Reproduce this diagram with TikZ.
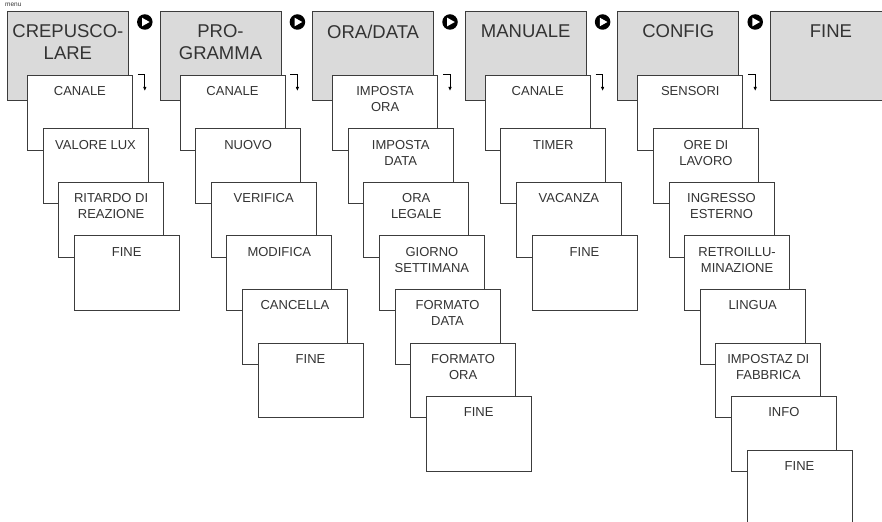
\documentclass[tikz,border=0pt]{standalone}
\usepackage{fontspec}
\setmainfont{Liberation Sans}
\usetikzlibrary{calc,arrows.meta}
\definecolor{boxgray}{HTML}{DADADA}
\definecolor{linegray}{HTML}{3C3C3C}
\definecolor{txtgray}{HTML}{333333}
\newcommand\mysub[4]{%
  \node[subbox] (#1) at ({#2+20+15.6*#3},{75+53.5*#3}) {};
  \node[subtxt] (#1t) at ($(#1.north)+(0,11.5)$) {#4};
}
\newcommand\mytop[3]{%
  \node[topbox] (#1) at (#2,11) {};
  \node[toptxt] (#1t) at ($(#1.north)+(0,13.5)$) {#3};
}
\begin{document}
\begin{tikzpicture}[x=1bp,y=-1bp,
  topbox/.style={draw=linegray, fill=boxgray, line width=0.8bp, anchor=north west,
    minimum width=121bp, minimum height=89bp, inner sep=0pt},
  subbox/.style={draw=linegray, fill=white, line width=0.8bp, anchor=north west,
    minimum width=105bp, minimum height=74.7bp, inner sep=0pt},
  toptxt/.style={anchor=north, inner sep=0pt, align=center, text=txtgray,
    font=\fontsize{18.5bp}{21.6bp}\selectfont},
  subtxt/.style={anchor=north, inner sep=0pt, align=center, text=txtgray,
    font=\fontsize{13bp}{16bp}\selectfont},
  playc/.style={circle, fill=black, minimum size=15.5bp, inner sep=0pt,
    path picture={\fill[white] ($(path picture bounding box.center)+(-2.8bp,-4.3bp)$)
      -- ($(path picture bounding box.center)+(4.8bp,0bp)$)
      -- ($(path picture bounding box.center)+(-2.8bp,4.3bp)$) -- cycle;}},
  hook/.style={draw=black, line width=0.8bp, -{Latex[length=4bp,width=3.5bp]}}
]
\useasboundingbox (0,0) rectangle (882,522);
\node[anchor=base west, inner sep=0pt, text=txtgray, font=\fontsize{6.5bp}{7bp}\selectfont] (menu) at (5,7) {menu};

% column 1
\mytop{t1}{7}{CREPUSCO-\\LARE}
\mysub{a0}{7}{0}{CANALE}
\mysub{a1}{7}{1}{VALORE LUX}
\mysub{a2}{7}{2}{RITARDO DI\\REAZIONE}
\mysub{a3}{7}{3}{FINE}

% column 2
\mytop{t2}{159.6}{PRO-\\GRAMMA}
\mysub{b0}{159.6}{0}{CANALE}
\mysub{b1}{159.6}{1}{NUOVO}
\mysub{b2}{159.6}{2}{VERIFICA}
\mysub{b3}{159.6}{3}{MODIFICA}
\mysub{b4}{159.6}{4}{CANCELLA}
\mysub{b5}{159.6}{5}{FINE}

% column 3
\mytop{t3}{312.2}{ORA/DATA}
\mysub{c0}{312.2}{0}{IMPOSTA\\ORA}
\mysub{c1}{312.2}{1}{IMPOSTA\\DATA}
\mysub{c2}{312.2}{2}{ORA\\LEGALE}
\mysub{c3}{312.2}{3}{GIORNO\\SETTIMANA}
\mysub{c4}{312.2}{4}{FORMATO\\DATA}
\mysub{c5}{312.2}{5}{FORMATO\\ORA}
\mysub{c6}{312.2}{6}{FINE}

% column 4
\mytop{t4}{464.8}{MANUALE}
\mysub{d0}{464.8}{0}{CANALE}
\mysub{d1}{464.8}{1}{TIMER}
\mysub{d2}{464.8}{2}{VACANZA}
\mysub{d3}{464.8}{3}{FINE}

% column 5
\mytop{t5}{617.4}{CONFIG}
\mysub{e0}{617.4}{0}{SENSORI}
\mysub{e1}{617.4}{1}{ORE DI\\LAVORO}
\mysub{e2}{617.4}{2}{INGRESSO\\ESTERNO}
\mysub{e3}{617.4}{3}{RETROILLU-\\MINAZIONE}
\mysub{e4}{617.4}{4}{LINGUA}
\mysub{e5}{617.4}{5}{IMPOSTAZ DI\\FABBRICA}
\mysub{e6}{617.4}{6}{INFO}
\mysub{e7}{617.4}{7}{FINE}

% column 6
\mytop{t6}{770}{FINE}

% play circles and hooks
\foreach \i in {1,...,5}{
  \node[playc] (p\i) at ($(t\i.north east)+(16,11)$) {};
  \coordinate (h\i) at ($(t\i.north east)+(9,63)$);
  \coordinate (g\i) at ($(t\i.north east)+(16,63)$);
  \coordinate (k\i) at ($(t\i.north east)+(16,80)$);
  \draw[hook] (h\i) -- (g\i) -- (k\i);
}
\end{tikzpicture}
\end{document}
